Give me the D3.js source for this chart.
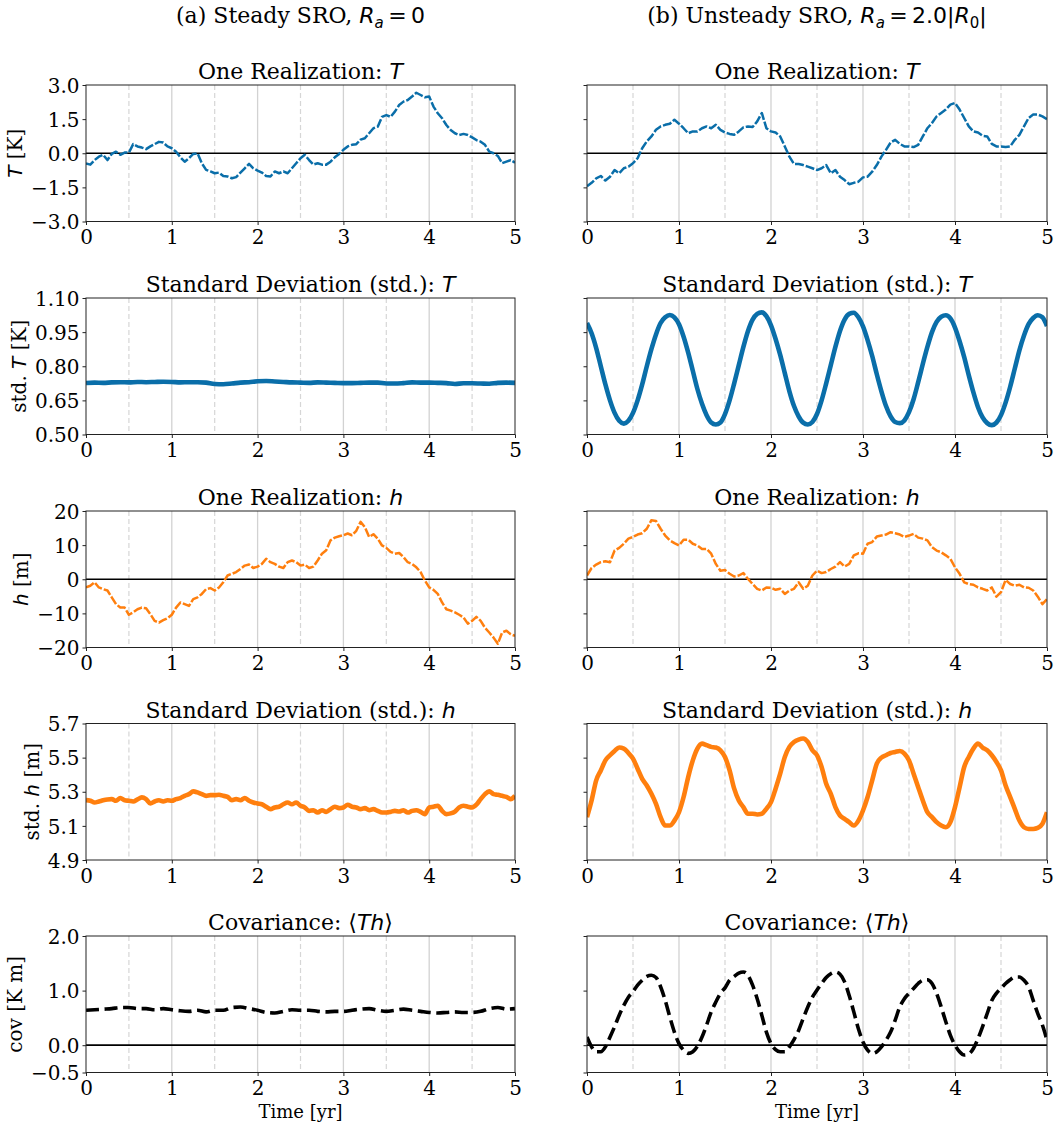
<!DOCTYPE html>
<html>
<head>
<meta charset="utf-8">
<script src="https://cdn.jsdelivr.net/npm/d3@7"></script>
<style>
    body { margin: 0; background: #fff; }
    svg text { font-family: "DejaVu Serif", serif; fill: #000; white-space: pre; }
    svg .math { font-family: "DejaVu Sans", sans-serif; font-style: italic; }
    svg .mathup { font-family: "DejaVu Sans", sans-serif; font-style: normal; }
</style>
</head>
<body>
<div id="chart"></div>
<script>
// sample times (yr)
const fineYears = d3.range(101).map(i => +(i * 0.05).toFixed(2));
const coarseYears = d3.range(51).map(i => +(i * 0.1).toFixed(1));

// (a) steady SRO
const realT_a = [
    -0.45, -0.5, -0.3, -0.15, -0.07, -0.3, -0.03, 0.07, -0.07, 0.03,
    0.03, 0.4, 0.3, 0.25, 0.18, 0.3, 0.4, 0.5, 0.47, 0.3,
    0.22, 0.07, -0.18, -0.37, -0.22, -0.03, 0.0, -0.44, -0.73, -0.8,
    -0.88, -0.85, -1.0, -1.02, -1.1, -1.05, -0.85, -0.66, -0.47, -0.66,
    -0.76, -0.85, -1.0, -1.02, -0.8, -0.88, -0.8, -0.88, -0.66, -0.44,
    -0.22, -0.07, -0.3, -0.5, -0.44, -0.5, -0.5, -0.37, -0.18, -0.03,
    0.15, 0.3, 0.37, 0.4, 0.6, 0.66, 0.88, 1.1, 1.17, 1.6,
    1.68, 1.6, 1.83, 2.12, 2.27, 2.34, 2.49, 2.66, 2.56, 2.46,
    2.49, 2.05, 1.76, 1.54, 1.24, 1.02, 0.88, 0.8, 0.85, 0.8,
    0.7, 0.58, 0.51, 0.37, 0.07, 0.0, -0.12, -0.44, -0.37, -0.3,
    -0.41
];
const stdT_a = [
    0.726, 0.728, 0.727, 0.729, 0.730, 0.729, 0.731, 0.730, 0.731, 0.732,
    0.731, 0.729, 0.730, 0.730, 0.728, 0.722, 0.721, 0.724, 0.728, 0.730,
    0.734, 0.735, 0.733, 0.731, 0.729, 0.728, 0.727, 0.729, 0.728, 0.727,
    0.726, 0.726, 0.727, 0.728, 0.728, 0.724, 0.724, 0.726, 0.729, 0.728,
    0.728, 0.727, 0.726, 0.722, 0.725, 0.725, 0.724, 0.723, 0.727, 0.728,
    0.727
];
const realH_a = [
    -2.4, -1.9, -0.9, -2.4, -2.9, -3.3, -5.3, -7.3, -8.3, -8.3,
    -10.4, -9.7, -8.8, -8.3, -8.5, -10.2, -12.2, -12.7, -12.0, -11.4,
    -10.4, -8.3, -6.8, -7.3, -7.8, -5.8, -5.3, -4.3, -2.9, -2.6,
    -3.3, -2.4, -0.9, 1.1, 1.6, 2.1, 3.0, 4.0, 4.3, 3.3,
    3.7, 4.5, 6.0, 5.0, 4.5, 3.7, 3.3, 5.0, 5.5, 5.0,
    4.0, 4.3, 3.3, 3.7, 5.5, 7.5, 8.5, 11.4, 12.2, 12.6,
    12.9, 13.4, 12.9, 14.2, 16.8, 15.3, 12.4, 13.2, 11.9, 9.9,
    9.2, 8.0, 7.5, 7.7, 6.5, 5.0, 4.5, 3.5, 2.1, -0.4,
    -2.4, -3.1, -4.3, -6.8, -8.8, -9.2, -9.7, -10.4, -11.2, -13.0,
    -12.2, -11.0, -12.2, -14.2, -15.6, -17.1, -18.9, -15.6, -15.1, -16.1,
    -16.6
];
const stdH_a = [
    5.251, 5.247, 5.237, 5.243, 5.25, 5.255, 5.257, 5.247, 5.263, 5.25,
    5.247, 5.243, 5.255, 5.267, 5.257, 5.231, 5.243, 5.25, 5.243, 5.25,
    5.247, 5.257, 5.263, 5.276, 5.286, 5.302, 5.296, 5.286, 5.276, 5.28,
    5.28, 5.282, 5.276, 5.27, 5.25, 5.257, 5.25, 5.263, 5.247, 5.237,
    5.231, 5.227, 5.212, 5.198, 5.208, 5.212, 5.227, 5.237, 5.227, 5.237,
    5.218, 5.208, 5.188, 5.192, 5.178, 5.192, 5.182, 5.198, 5.212, 5.204,
    5.208, 5.224, 5.212, 5.208, 5.198, 5.204, 5.192, 5.198, 5.188, 5.178,
    5.178, 5.182, 5.188, 5.184, 5.192, 5.178, 5.188, 5.192, 5.182, 5.169,
    5.208, 5.212, 5.218, 5.188, 5.169, 5.173, 5.184, 5.208, 5.218, 5.212,
    5.208, 5.224, 5.257, 5.286, 5.302, 5.286, 5.282, 5.276, 5.27, 5.257,
    5.276
];
const covTh_a = [
    0.64, 0.65, 0.66, 0.67, 0.69, 0.69, 0.67, 0.67, 0.65, 0.67,
    0.65, 0.63, 0.62, 0.64, 0.61, 0.64, 0.64, 0.69, 0.70, 0.67,
    0.64, 0.60, 0.59, 0.62, 0.65, 0.64, 0.64, 0.62, 0.61, 0.62,
    0.62, 0.64, 0.66, 0.67, 0.64, 0.62, 0.64, 0.66, 0.64, 0.62,
    0.60, 0.59, 0.60, 0.61, 0.60, 0.60, 0.62, 0.67, 0.69, 0.66,
    0.67
];

// (b) unsteady SRO
const realT_b = [
    -1.45, -1.3, -1.1, -1.0, -1.2, -1.03, -0.74, -0.88, -0.66, -0.59,
    -0.44, -0.22, 0.22, 0.52, 0.74, 1.03, 1.18, 1.25, 1.3, 1.47,
    1.3, 1.1, 0.88, 0.96, 0.96, 1.1, 1.18, 1.1, 1.25, 1.03,
    0.91, 0.85, 0.81, 0.96, 1.14, 1.18, 1.15, 1.4, 1.77, 1.1,
    0.96, 0.91, 0.74, 0.3, -0.15, -0.47, -0.47, -0.52, -0.59, -0.66,
    -0.74, -0.66, -0.52, -0.88, -0.74, -1.03, -1.18, -1.36, -1.3, -1.25,
    -1.06, -1.03, -0.81, -0.52, -0.15, 0.15, 0.47, 0.59, 0.41, 0.3,
    0.3, 0.27, 0.37, 0.74, 1.1, 1.33, 1.62, 1.77, 1.92, 2.14,
    2.21, 1.92, 1.55, 1.18, 0.96, 0.91, 0.77, 0.74, 0.41, 0.3,
    0.3, 0.27, 0.3, 0.59, 0.81, 1.18, 1.55, 1.7, 1.7, 1.62,
    1.5
];
const stdT_b = [
    0.99, 0.945, 0.88, 0.80, 0.72, 0.65, 0.595, 0.56, 0.548, 0.56,
    0.595, 0.65, 0.72, 0.80, 0.875, 0.94, 0.99, 1.015, 1.025, 1.015,
    0.985, 0.93, 0.86, 0.78, 0.70, 0.635, 0.585, 0.553, 0.544, 0.553,
    0.59, 0.65, 0.725, 0.805, 0.885, 0.955, 1.005, 1.03, 1.037, 1.02,
    0.98, 0.92, 0.85, 0.77, 0.69, 0.625, 0.58, 0.552, 0.544, 0.555,
    0.59, 0.65, 0.725, 0.805, 0.885, 0.955, 1.005, 1.03, 1.035, 1.015,
    0.975, 0.915, 0.845, 0.765, 0.69, 0.625, 0.58, 0.555, 0.55, 0.562,
    0.598, 0.655, 0.73, 0.81, 0.885, 0.95, 0.995, 1.018, 1.024, 1.01,
    0.97, 0.91, 0.84, 0.76, 0.685, 0.62, 0.575, 0.55, 0.541, 0.552,
    0.585, 0.64, 0.71, 0.79, 0.87, 0.935, 0.985, 1.012, 1.024, 1.015,
    0.977
];
const realH_b = [
    1.1, 3.3, 4.3, 5.0, 5.3, 5.0, 8.4, 9.2, 10.4, 11.9,
    12.4, 13.1, 13.5, 14.8, 17.3, 17.1, 14.8, 12.8, 11.4, 10.6,
    9.9, 11.6, 11.6, 10.4, 9.9, 8.9, 8.9, 7.5, 4.5, 2.5,
    2.7, 1.6, 0.8, 1.1, 1.8, 0.1, -1.4, -2.8, -3.3, -2.4,
    -2.5, -3.1, -2.8, -4.3, -3.3, -2.8, -0.9, -2.8, -1.9, 1.1,
    2.5, 1.8, 2.1, 3.0, 3.7, 5.0, 3.7, 4.5, 7.0, 7.6,
    7.5, 10.4, 10.9, 12.5, 12.8, 13.1, 13.8, 13.5, 13.1, 12.4,
    12.8, 13.3, 12.2, 11.9, 11.4, 9.4, 8.4, 7.9, 7.0, 6.0,
    3.5, 1.6, -0.9, -1.4, -1.6, -2.4, -2.8, -3.3, -2.4, -5.1,
    -3.8, -0.2, -1.4, -1.9, -1.6, -2.4, -2.5, -3.3, -5.1, -7.3,
    -5.8
];
const stdH_b = [
    5.151, 5.249, 5.367, 5.425, 5.484, 5.514, 5.539, 5.559, 5.553, 5.527,
    5.494, 5.435, 5.376, 5.337, 5.288, 5.229, 5.151, 5.102, 5.102, 5.131,
    5.18, 5.269, 5.386, 5.484, 5.553, 5.582, 5.573, 5.563, 5.559, 5.543,
    5.504, 5.425, 5.318, 5.249, 5.21, 5.171, 5.171, 5.167, 5.171, 5.2,
    5.239, 5.318, 5.406, 5.504, 5.563, 5.592, 5.606, 5.612, 5.592, 5.543,
    5.514, 5.445, 5.347, 5.288, 5.21, 5.161, 5.141, 5.122, 5.102, 5.131,
    5.19, 5.269, 5.367, 5.465, 5.5, 5.514, 5.527, 5.533, 5.539, 5.524,
    5.484, 5.406, 5.327, 5.249, 5.18, 5.151, 5.122, 5.102, 5.092, 5.122,
    5.21, 5.327, 5.445, 5.504, 5.553, 5.582, 5.559, 5.543, 5.514, 5.475,
    5.425, 5.337, 5.269, 5.2, 5.131, 5.092, 5.082, 5.082, 5.088, 5.112,
    5.18
];
const covTh_b = [
    0.15, -0.03, -0.12, -0.12, -0.03, 0.15, 0.34, 0.55, 0.73, 0.88,
    0.98, 1.10, 1.19, 1.26, 1.28, 1.24, 1.07, 0.82, 0.52, 0.24,
    0.03, -0.09, -0.15, -0.12, -0.02, 0.15, 0.37, 0.61, 0.79, 0.95,
    1.05, 1.19, 1.26, 1.32, 1.34, 1.28, 1.10, 0.85, 0.55, 0.24,
    0.03, -0.08, -0.12, -0.12, -0.03, 0.10, 0.27, 0.49, 0.70, 0.88,
    1.01, 1.13, 1.24, 1.31, 1.34, 1.30, 1.16, 0.91, 0.61, 0.30,
    0.06, -0.09, -0.15, -0.12, -0.03, 0.09, 0.24, 0.46, 0.70, 0.85,
    0.95, 1.04, 1.13, 1.19, 1.20, 1.13, 0.95, 0.70, 0.43, 0.18,
    0.0, -0.12, -0.18, -0.16, -0.06, 0.12, 0.34, 0.58, 0.82, 0.95,
    1.04, 1.13, 1.20, 1.25, 1.25, 1.19, 1.07, 0.82, 0.58, 0.37,
    0.09
];

// axis ticks
const xTicks = [0, 1, 2, 3, 4, 5];
const solidGridYears = [1, 2, 3, 4];
const dashedGridYears = [0.5, 1.5, 2.5, 3.5, 4.5];
const yTicksT = [-3, -1.5, 0, 1.5, 3];
const yTicksStdT = [0.5, 0.65, 0.8, 0.95, 1.1];
const yTicksH = [-20, -10, 0, 10, 20];
const yTicksStdH = [4.9, 5.1, 5.3, 5.5, 5.7];
const yTicksCov = [-0.5, 0, 1, 2];

const BLUE = '#0a6ea9';
const ORANGE = '#ff7f0e';

class SroFigure {
    constructor() {
        const attrs = {
            container: 'body',
            svgWidth: 1057,
            svgHeight: 1127,
            columnLefts: [86, 587],
            columnWidths: [429, 460],
            rowTops: [85, 298, 511, 723.5, 936],
            panelHeight: 136.5,
            columns: [],
            rows: []
        };

        this.getState = () => attrs;
        this.setState = (d) => Object.assign(attrs, d);

        Object.keys(attrs).forEach((key) => {
            this[key] = function(_) {
                if (!arguments.length) {
                    return attrs[key];
                }
                attrs[key] = _;
                return this;
            };
        });
    }

    render() {
        this.drawSvg();
        this.drawColumnTitles();
        this.drawPanels();
        return this;
    }

    drawSvg() {
        const { container, svgWidth, svgHeight } = this.getState();
        const svg = d3.select(container)
            .append('svg')
            .attr('width', svgWidth)
            .attr('height', svgHeight);
        svg.append('rect')
            .attr('width', svgWidth)
            .attr('height', svgHeight)
            .attr('fill', '#fff');
        this.setState({ svg });
    }

    // pieces: [{t, math: 'it'|'up', sub}]
    richText(sel, pieces, fontSize) {
        const drop = Math.round(fontSize * 0.22);
        let low = false;
        pieces.forEach((p) => {
            const ts = sel.append('tspan').text(p.t);
            if (p.math === 'it') ts.attr('class', 'math');
            if (p.math === 'up') ts.attr('class', 'mathup');
            if (p.sub) {
                ts.attr('font-size', Math.round(fontSize * 0.7));
                if (!low) { ts.attr('dy', drop); low = true; }
            } else if (low) {
                ts.attr('dy', -drop);
                low = false;
            }
        });
        return sel;
    }

    drawColumnTitles() {
        const { svg, columns, columnLefts, columnWidths } = this.getState();
        columns.forEach((col, j) => {
            const t = svg.append('text')
                .attr('x', columnLefts[j] + columnWidths[j] / 2)
                .attr('y', 23)
                .attr('text-anchor', 'middle')
                .attr('font-size', 22);
            this.richText(t, col.title, 22);
        });
    }

    drawPanels() {
        const { svg, rows, columns, columnLefts, columnWidths, rowTops, panelHeight } = this.getState();
        const defs = svg.append('defs');

        rows.forEach((row, i) => {
            columns.forEach((col, j) => {
                const w = columnWidths[j];
                const h = panelHeight;
                const g = svg.append('g')
                    .attr('class', 'panel')
                    .attr('transform', `translate(${columnLefts[j]},${rowTops[i]})`);

                const x = d3.scaleLinear().domain([0, 5]).range([0, w]);
                const y = d3.scaleLinear().domain(row.yDomain).range([h, 0]);

                const clipId = `clip-${i}-${j}`;
                defs.append('clipPath').attr('id', clipId)
                    .append('rect').attr('width', w).attr('height', h);

                // grid
                g.selectAll('.vgrid').data(solidGridYears).join('line')
                    .attr('class', 'vgrid')
                    .attr('x1', d => x(d)).attr('x2', d => x(d))
                    .attr('y1', 0).attr('y2', h)
                    .attr('stroke', '#d2d2d2').attr('stroke-width', 1.3);
                g.selectAll('.hgrid').data(dashedGridYears).join('line')
                    .attr('class', 'hgrid')
                    .attr('x1', d => x(d)).attr('x2', d => x(d))
                    .attr('y1', 0).attr('y2', h)
                    .attr('stroke', '#d6d6d6').attr('stroke-width', 1.2)
                    .attr('stroke-dasharray', '5,3');

                if (row.zeroLine) {
                    g.append('line')
                        .attr('x1', 0).attr('x2', w)
                        .attr('y1', y(0)).attr('y2', y(0))
                        .attr('stroke', '#000').attr('stroke-width', 1.7);
                }

                // series
                const times = row.times[j];
                const values = row.values[j];
                const pts = values.map((v, k) => [times[k], v]);
                const line = d3.line()
                    .x(d => x(d[0]))
                    .y(d => y(d[1]))
                    .curve(row.kind === 'real' ? d3.curveLinear : d3.curveMonotoneX);
                const style = {
                    real: { width: 2.5, dash: '9,2' },
                    std: { width: 4.6, dash: null },
                    cov: { width: 3.6, dash: '13,5.6' }
                }[row.kind];
                g.append('path')
                    .datum(pts)
                    .attr('clip-path', `url(#${clipId})`)
                    .attr('fill', 'none')
                    .attr('stroke', row.color)
                    .attr('stroke-width', style.width)
                    .attr('stroke-linejoin', 'round')
                    .attr('stroke-dasharray', style.dash)
                    .attr('d', line);

                // axes
                const xAxis = g.append('g')
                    .attr('transform', `translate(0,${h})`)
                    .call(d3.axisBottom(x).tickValues(xTicks).tickSize(3.5).tickPadding(5).tickFormat(d3.format('d')));
                const yAxis = g.append('g')
                    .call(d3.axisLeft(y).tickValues(row.yTicks).tickSize(3.5).tickPadding(3)
                        .tickFormat(j === 0 ? d3.format(row.format) : ''));
                [xAxis, yAxis].forEach(a => {
                    a.select('.domain').remove();
                    a.selectAll('line').attr('stroke', '#222').attr('stroke-width', 1);
                    a.selectAll('text')
                        .attr('font-size', 20)
                        .attr('font-family', '"DejaVu Serif", serif')
                        .attr('fill', '#000');
                });
                yAxis.selectAll('text').attr('dy', '0.36em');

                // spines
                g.append('rect')
                    .attr('width', w).attr('height', h)
                    .attr('fill', 'none')
                    .attr('stroke', '#222').attr('stroke-width', 1);

                // title
                const title = g.append('text')
                    .attr('x', w / 2).attr('y', -6)
                    .attr('text-anchor', 'middle')
                    .attr('font-size', 22);
                this.richText(title, row.title, 22);

                if (j === 0) {
                    const bb = yAxis.node().getBBox();
                    const lab = g.append('text')
                        .attr('transform', `translate(${bb.x - 9},${h / 2}) rotate(-90)`)
                        .attr('text-anchor', 'middle')
                        .attr('font-size', 20);
                    this.richText(lab, row.ylabel, 20);
                }

                if (i === rows.length - 1) {
                    g.append('text')
                        .attr('x', w / 2).attr('y', h + 45)
                        .attr('text-anchor', 'middle')
                        .attr('font-size', 18)
                        .text('Time [yr]');
                }
            });
        });
    }
}

const columns = [
    { title: [{ t: '(a) Steady SRO, ' }, { t: 'R', math: 'it' }, { t: 'a', math: 'it', sub: true }, { t: '\u2009=\u20090', math: 'up' }] },
    { title: [{ t: '(b) Unsteady SRO, ' }, { t: 'R', math: 'it' }, { t: 'a', math: 'it', sub: true },
        { t: '\u2009=\u20092.0|', math: 'up' }, { t: 'R', math: 'it' }, { t: '0', math: 'up', sub: true }, { t: '|', math: 'up' }] }
];

const rows = [
    {
        kind: 'real', color: BLUE, zeroLine: true,
        yDomain: [-3, 3], yTicks: yTicksT, format: '.1f',
        times: [fineYears, fineYears], values: [realT_a, realT_b],
        title: [{ t: 'One Realization: ' }, { t: 'T', math: 'it' }],
        ylabel: [{ t: 'T', math: 'it' }, { t: ' [K]' }]
    },
    {
        kind: 'std', color: BLUE, zeroLine: false,
        yDomain: [0.5, 1.1], yTicks: yTicksStdT, format: '.2f',
        times: [coarseYears, fineYears], values: [stdT_a, stdT_b],
        title: [{ t: 'Standard Deviation (std.): ' }, { t: 'T', math: 'it' }],
        ylabel: [{ t: 'std. ' }, { t: 'T', math: 'it' }, { t: ' [K]' }]
    },
    {
        kind: 'real', color: ORANGE, zeroLine: true,
        yDomain: [-20, 20], yTicks: yTicksH, format: 'd',
        times: [fineYears, fineYears], values: [realH_a, realH_b],
        title: [{ t: 'One Realization: ' }, { t: 'h', math: 'it' }],
        ylabel: [{ t: 'h', math: 'it' }, { t: ' [m]' }]
    },
    {
        kind: 'std', color: ORANGE, zeroLine: false,
        yDomain: [4.9, 5.7], yTicks: yTicksStdH, format: '.1f',
        times: [fineYears, fineYears], values: [stdH_a, stdH_b],
        title: [{ t: 'Standard Deviation (std.): ' }, { t: 'h', math: 'it' }],
        ylabel: [{ t: 'std. ' }, { t: 'h', math: 'it' }, { t: ' [m]' }]
    },
    {
        kind: 'cov', color: '#000', zeroLine: true,
        yDomain: [-0.5, 2], yTicks: yTicksCov, format: '.1f',
        times: [coarseYears, fineYears], values: [covTh_a, covTh_b],
        title: [{ t: 'Covariance: ' }, { t: '\u27E8', math: 'up' }, { t: 'Th', math: 'it' }, { t: '\u27E9', math: 'up' }],
        ylabel: [{ t: 'cov [K m]' }]
    }
];

new SroFigure()
    .container('#chart')
    .columns(columns)
    .rows(rows)
    .render();
</script>
</body>
</html>
